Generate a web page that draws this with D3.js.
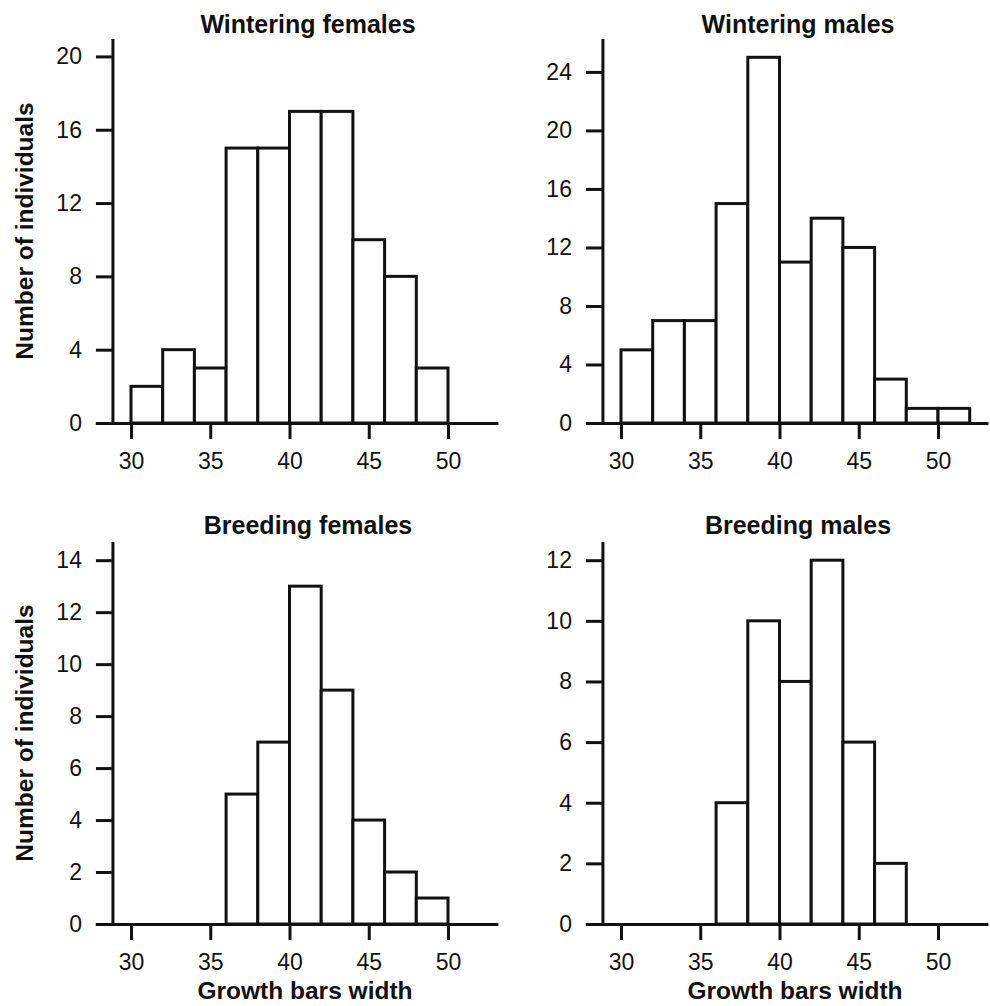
<!DOCTYPE html>
<html>
<head>
<meta charset="utf-8">
<script src="https://cdn.jsdelivr.net/npm/d3@7"></script>
<style>
    html, body { margin: 0; padding: 0; background: #fff; }
    svg { display: block; font-family: "Liberation Sans", Arial, sans-serif; }
    .axis path, .axis line { stroke: #111; stroke-width: 3; }
    .axis text { font-size: 23px; fill: #111; }
    .bar { fill: #fff; stroke: #111; stroke-width: 3; }
    .title { font-size: 25px; font-weight: bold; fill: #111; }
    .label { font-size: 24.5px; font-weight: bold; fill: #111; }
</style>
</head>
<body>
<svg id="chart" width="990" height="1006"></svg>
<script>
// Data: counts per 2-unit bin, starting at 30
const binStart = 30;
const binWidth = 2;
const winteringFemales = [2, 4, 3, 15, 15, 17, 17, 10, 8, 3];
const winteringMales = [5, 7, 7, 15, 25, 11, 14, 12, 3, 1, 1];
const breedingFemales = [0, 0, 0, 5, 7, 13, 9, 4, 2, 1];
const breedingMales = [0, 0, 0, 4, 10, 8, 12, 6, 2];

const titles = ['Wintering females', 'Wintering males', 'Breeding females', 'Breeding males'];
const xTicks = [30, 35, 40, 45, 50];
const yTicksWF = [0, 4, 8, 12, 16, 20];
const yTicksWM = [0, 4, 8, 12, 16, 20, 24];
const yTicksBF = [0, 2, 4, 6, 8, 10, 12, 14];
const yTicksBM = [0, 2, 4, 6, 8, 10, 12];
const yLimits = [20.95, 26.25, 14.7, 12.6];
const xLimits = [27.75, 53.15];
const yLabel = 'Number of individuals';
const xLabel = 'Growth bars width';

(function () {

    let d3svg = d3.select('#chart');

    // Panel layout (left offset, zero line, top of y axis)
    let panels = [
        { counts: winteringFemales, ticks: yTicksWF, dx: 0, y0: 423, y1: 39, titleY: 33, yLab: true, xLab: false },
        { counts: winteringMales, ticks: yTicksWM, dx: 490, y0: 423, y1: 39, titleY: 33, yLab: false, xLab: false },
        { counts: breedingFemales, ticks: yTicksBF, dx: 0, y0: 924, y1: 542, titleY: 534, yLab: true, xLab: true },
        { counts: breedingMales, ticks: yTicksBM, dx: 490, y0: 924, y1: 542, titleY: 534, yLab: false, xLab: true }
    ];

    panels.forEach((p, i) => draw(p, i));

    function draw(p, i) {
        let g = d3svg.append('g').attr('transform', 'translate(' + p.dx + ',0)');

        let xScale = d3.scaleLinear()
            .domain(xLimits)
            .range([131 - (30 - xLimits[0]) * 15.85, 448 + (xLimits[1] - 50) * 15.85]);
        let yScale = d3.scaleLinear().domain([0, yLimits[i]]).range([p.y0, p.y1]);

        let bins = p.counts
            .map((c, k) => ({ x0: binStart + k * binWidth, x1: binStart + (k + 1) * binWidth, n: c }))
            .filter((b) => b.n > 0);

        // Bars
        g.selectAll('rect.bar').data(bins).enter().append('rect')
            .attr('class', 'bar')
            .attr('x', (b) => xScale(b.x0))
            .attr('width', (b) => xScale(b.x1) - xScale(b.x0))
            .attr('y', (b) => yScale(b.n))
            .attr('height', (b) => yScale(0) - yScale(b.n));

        // Axes
        let yAxis = d3.axisLeft(yScale).tickValues(p.ticks).tickSize(17).tickSizeOuter(0).tickPadding(14);
        g.append('g').attr('class', 'axis')
            .attr('transform', 'translate(' + xScale(28.86) + ',0)')
            .call(yAxis)
            .call((a) => a.select('.domain').attr('d', 'M0,' + p.y0 + 'V' + p.y1));

        let xAxis = d3.axisBottom(xScale).tickValues(xTicks).tickSize(16).tickSizeOuter(0).tickPadding(14);
        g.append('g').attr('class', 'axis')
            .attr('transform', 'translate(0,' + p.y0 + ')')
            .call(xAxis);

        g.selectAll('.axis').attr('font-size', null).attr('font-family', null);

        // Title and labels
        g.append('text').attr('class', 'title')
            .attr('x', 308).attr('y', p.titleY)
            .attr('text-anchor', 'middle')
            .text(titles[i]);

        if (p.yLab) {
            g.append('text').attr('class', 'label')
                .attr('transform', 'translate(33,' + ((p.y0 + p.y1) / 2) + ') rotate(-90)')
                .attr('text-anchor', 'middle')
                .text(yLabel);
        }
        if (p.xLab) {
            g.append('text').attr('class', 'label')
                .attr('x', 305).attr('y', 999)
                .attr('text-anchor', 'middle')
                .text(xLabel);
        }
    }

}());
</script>
</body>
</html>
